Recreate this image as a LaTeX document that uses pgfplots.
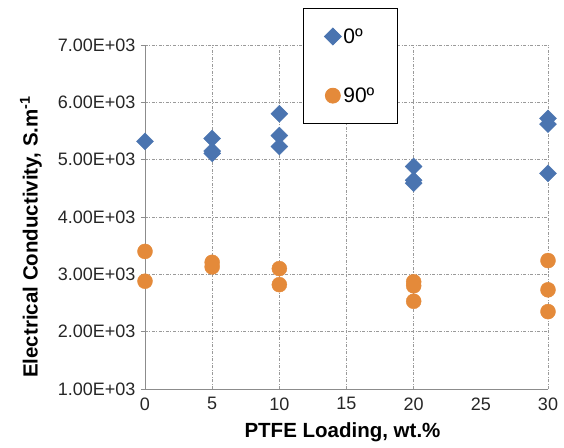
\documentclass[border=0pt]{standalone}
\usepackage{pgfplots}
\pgfplotsset{compat=1.18}
\usepackage{fontspec}
\setmainfont{Liberation Sans}
\definecolor{sblue}{HTML}{4A74B0}
\definecolor{sorange}{HTML}{E48A3A}
\definecolor{gridgray}{HTML}{9A9A9A}
\definecolor{axgray}{HTML}{8C8C8C}
\begin{document}
\begin{tikzpicture}
\useasboundingbox (-145pt,-58pt) rectangle (419pt,389pt);
\begin{axis}[
  at={(0pt,0pt)}, anchor=south west,
  scale only axis, width=403pt, height=344pt,
  xmin=0, xmax=30, ymin=1000, ymax=7000,
  axis lines*=left,
  axis line style={axgray, line width=0.8pt, -},
  xtick={0,5,10,15,20,30},
  extra x ticks={25},
  extra x tick style={grid=none},
  xtick style={draw=none},
  ytick={1000,2000,3000,4000,5000,6000,7000},
  yticklabels={1.00E+03,2.00E+03,3.00E+03,4.00E+03,5.00E+03,6.00E+03,7.00E+03},
  ytick style={axgray, line width=0.8pt},
  tick align=outside, major tick length=4pt,
  grid=major,
  major grid style={gridgray, line width=0.7pt, dash pattern=on 3pt off 1.5pt on 1pt off 1.5pt},
  tick label style={font=\fontsize{18}{21}\selectfont, text=black!85},
  /pgf/number format/assume math mode=true,
  yticklabel style={xshift=-2pt},
  xticklabel style={yshift=-1pt},
  xlabel={\bfseries PTFE Loading, wt.\%},
  ylabel={\bfseries Electrical Conductivity, S.m\textsuperscript{-1}},
  label style={font=\fontsize{20.5}{24}\selectfont\bfseries},
  xlabel style={at={(axis description cs:0.49,-0.125)}, anchor=center},
  ylabel style={at={(axis description cs:-0.283,0.442)}, anchor=center},
  legend style={at={(axis description cs:0.392,1.1076)}, anchor=north west,
    draw=black, line width=0.8pt, inner xsep=21pt, inner ysep=18pt, row sep=39pt,
    font=\fontsize{21}{24}\selectfont, cells={anchor=west}},
  legend cell align=left,
  clip=false,
]
\addplot[only marks, mark=square*, mark size=6pt, mark options={rotate=45, fill=sblue, draw=sblue}]
  table {
x y
0 5320
5 5370
5 5150
5 5110
10 5800
10 5420
10 5230
20 4880
20 4640
20 4590
30 5720
30 5620
30 4760
};
\addlegendentry{0º}
\addplot[only marks, mark=*, mark size=7.5pt, mark options={fill=sorange, draw=sorange}]
  table {
x y
0 3400
0 2880
5 3210
5 3130
10 3100
10 2820
20 2870
20 2800
20 2530
30 3240
30 2730
30 2350
};
\addlegendentry{90º}
\end{axis}
\end{tikzpicture}
\end{document}
